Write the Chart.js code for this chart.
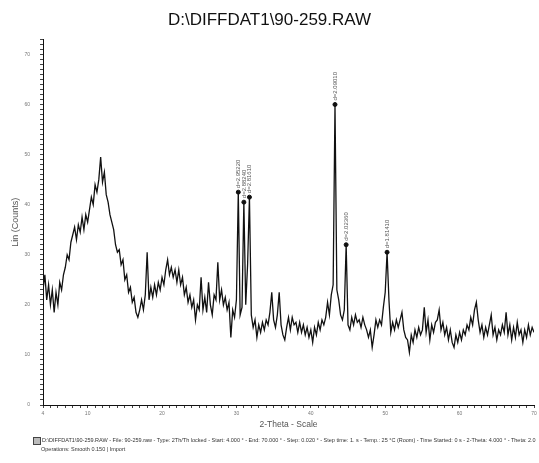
<!DOCTYPE html>
<html>
<head>
<meta charset="utf-8">
<script src="https://cdn.jsdelivr.net/npm/chart.js@4.4.1/dist/chart.umd.min.js"></script>
<style>
    body { margin: 0; background: #fff; }
    #wrap { position: relative; width: 539px; height: 463px; }
    #footer { position: absolute; left: 33px; top: 436px; font: 5.5px "Liberation Sans", Arial, sans-serif; color: #333; line-height: 8px; white-space: nowrap; }
    #footer .icon { display: inline-block; width: 6px; height: 6px; border: 1px solid #444; background: #bbb; vertical-align: middle; margin-right: 1px; }
    #footer .l2 { padding-left: 8px; }
</style>
</head>
<body>
<div id="wrap">
    <canvas id="xrd" width="539" height="463"></canvas>
    <div id="footer">
        <div><span class="icon"></span>D:\DIFFDAT1\90-259.RAW - File: 90-259.raw - Type: 2Th/Th locked - Start: 4.000 ° - End: 70.000 ° - Step: 0.020 ° - Step time: 1. s - Temp.: 25 °C (Room) - Time Started: 0 s - 2-Theta: 4.000 ° - Theta: 2.0</div>
        <div class="l2">Operations: Smooth 0.150 | Import</div>
    </div>
</div>
<script>
// قيم المخطط (مقروءة من الصورة)
const thetaStart = 4;
const thetaStep = 0.25;
const counts = [
    23, 26, 21, 24,   20, 23, 18.5, 22.5,   20, 24.5, 23, 26,   27.5, 30, 29, 32.5,
    34, 35.5, 33, 36,   34.5, 37.5, 35, 38,   36.5, 39, 41.5, 40,   44, 42.5, 45, 49.5,
    44.5, 46.5, 42, 40.5,   38, 36.5, 35, 32,   30.5, 31, 28, 29,   25, 26, 22.5, 23.5,
    20.5, 21.5, 18.5, 17.5,   19, 21, 19, 22,   30.5, 21, 23.5, 21.5,   24, 22, 24.5, 23,
    25.5, 24, 27, 29,   26, 27.5, 25.5, 27,   24.5, 27, 24, 25.5,   22, 23.5, 20.5, 22,
    19.5, 21, 17, 20,   19, 25.5, 19, 21.5,   18.5, 24.5, 20, 18,   22, 21, 28.5, 21,
    23, 20, 21.5, 19,   20.5, 13.5, 19, 17.5,   21, 42.5, 18, 19.5,   40.5, 20, 28, 41.5,
    18, 15.5, 17, 13.5,   16, 14.5, 16.5, 15,   17, 16, 18.5, 22.5,   17, 15.5, 18, 22.5,
    16, 14, 13, 15.5,   17.5, 15, 17.5, 16,   16.5, 14.5, 16.5, 14.5,   16, 14, 15.5, 13.5,
    15, 12.5, 15.5, 14,   16.5, 15, 17, 16,   17.5, 20.5, 18, 22,   24, 60, 23, 21,
    18, 17, 19, 32,   16, 15, 17.5, 16,   18, 16.5, 17, 15.5,   17.5, 16, 15, 13.5,
    15, 11.5, 14, 17,   15.5, 17, 16, 19.5,   22.5, 30.5, 21, 14.5,   16.5, 15, 17, 15.5,
    17, 18.5, 15, 13.5,   13, 10.5, 14, 12.5,   15, 13.5, 15.5, 14,   15, 19.5, 14.5, 17,
    13, 16, 14.5, 16.5,   17, 19, 15, 16.5,   14, 15.5, 13, 15,   12.5, 11.5, 14, 12.5,
    14.5, 13, 15, 14,   16, 15, 17.5, 16,   19, 20.5, 17, 14.5,   16, 13.5, 15.5, 14,
    16, 18, 14, 15.5,   13, 15, 14, 16,   14.5, 18.5, 14, 16,   13, 15.5, 13.5, 16.5,
    14, 15, 12.5, 15,   13.5, 16, 14, 15.5,   14.5
];
const twoTheta = counts.map((c, i) => thetaStart + i * thetaStep);

// القمم المعلّمة
const peakTheta = [30.25, 31.0, 31.75, 43.25, 44.75, 50.25];
const peakCounts = [42.5, 40.5, 41.5, 60, 32, 30.5];
const peakLabels = ['d=2.95220', 'd=2.88240', 'd=2.81610', 'd=2.09010', 'd=2.02360', 'd=1.81410'];

const xTickLabels = [4, 10, 20, 30, 40, 50, 60, 70];
const yTickLabels = [0, 10, 20, 30, 40, 50, 60, 70];

// رسم نصوص القمم عموديا
const peakLabelPlugin = {
    id: 'peakLabels',
    afterDatasetsDraw(chart) {
        const { ctx, scales } = chart;
        ctx.save();
        ctx.font = '6px "Liberation Sans", Arial, sans-serif';
        ctx.fillStyle = '#555';
        ctx.textAlign = 'left';
        ctx.textBaseline = 'middle';
        peakTheta.forEach((t, i) => {
            const x = scales.x.getPixelForValue(t);
            const y = scales.y.getPixelForValue(peakCounts[i]) - 4;
            ctx.save();
            ctx.translate(x, y);
            ctx.rotate(-Math.PI / 2);
            ctx.fillText(peakLabels[i], 0, 0);
            ctx.restore();
        });
        ctx.restore();
    }
};

new Chart(document.getElementById('xrd'), {
    type: 'line',
    data: {
        datasets: [{
            data: twoTheta.map((t, i) => ({ x: t, y: counts[i] })),
            borderColor: '#111',
            borderWidth: 1.3,
            pointRadius: 0,
            tension: 0
        }, {
            data: peakTheta.map((t, i) => ({ x: t, y: peakCounts[i] })),
            showLine: false,
            pointRadius: 2,
            pointBackgroundColor: '#111',
            pointBorderColor: '#111'
        }]
    },
    options: {
        responsive: false,
        animation: false,
        layout: { padding: { left: 0, right: 0, bottom: 33, top: 0 } },
        plugins: {
            legend: { display: false },
            tooltip: { enabled: false },
            title: {
                display: true,
                text: 'D:\\DIFFDAT1\\90-259.RAW',
                color: '#111',
                font: { family: '"Liberation Sans", Arial, sans-serif', size: 17, weight: 'normal' },
                padding: { top: 10, bottom: 9 }
            }
        },
        scales: {
            x: {
                type: 'linear',
                min: 4,
                max: 70,
                afterFit: (s) => { s.height = 25; s.paddingRight = 0; s.paddingLeft = 0; },
                border: { display: true, color: '#111', width: 1 },
                grid: { drawOnChartArea: false, drawTicks: true, tickLength: 3, color: '#444' },
                ticks: {
                    stepSize: 1,
                    autoSkip: false,
                    maxRotation: 0,
                    padding: 3,
                    color: '#777',
                    font: { size: 5, family: '"Liberation Sans", Arial, sans-serif' },
                    callback: (v) => xTickLabels.includes(v) ? String(v) : ''
                },
                title: {
                    display: true,
                    text: '2-Theta - Scale',
                    color: '#555',
                    padding: { top: 0, bottom: 0 },
                    font: { size: 8.5, family: '"Liberation Sans", Arial, sans-serif' }
                }
            },
            y: {
                min: 0,
                max: 73,
                afterFit: (s) => { s.width = 43; },
                border: { display: true, color: '#111', width: 1 },
                grid: { drawOnChartArea: false, drawTicks: true, tickLength: 3, color: '#444' },
                ticks: {
                    stepSize: 1,
                    autoSkip: false,
                    padding: 10,
                    color: '#777',
                    font: { size: 5, family: '"Liberation Sans", Arial, sans-serif' },
                    callback: (v) => yTickLabels.includes(v) ? String(v) : ''
                },
                title: {
                    display: true,
                    text: 'Lin (Counts)',
                    color: '#555',
                    padding: { top: 10, bottom: 0 },
                    font: { size: 9, family: '"Liberation Sans", Arial, sans-serif' }
                }
            }
        }
    },
    plugins: [peakLabelPlugin]
});
</script>
</body>
</html>
